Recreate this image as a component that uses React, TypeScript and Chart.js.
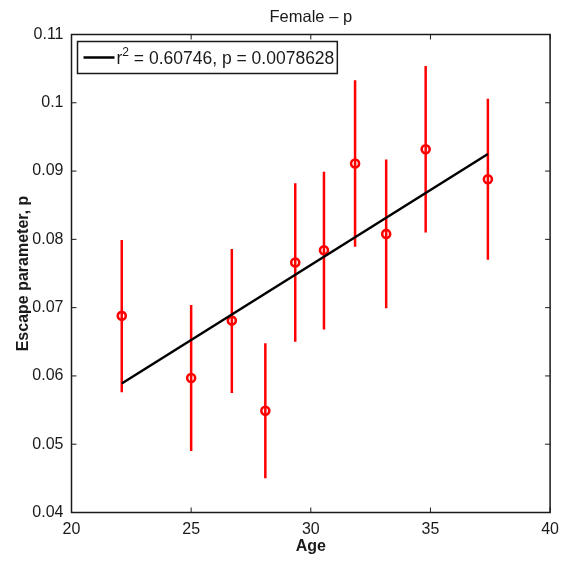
import React, { useEffect, useRef } from 'react';
import { Chart, registerables } from 'chart.js';

Chart.register(...registerables);

const chartTitle = 'Female – p';
const xAxisTitle = 'Age';
const yAxisTitle = 'Escape parameter, p';
const legendLabel = ['r', '2', ' = 0.60746, p = 0.0078628'];

const ages = [22.1, 25.0, 26.7, 28.1, 29.35, 30.55, 31.85, 33.15, 34.8, 37.4];
const pValues = [0.0688, 0.0597, 0.0681, 0.0549, 0.0766, 0.0784, 0.0911, 0.0808, 0.0932, 0.0888];
const pLower = [0.0576, 0.049, 0.0575, 0.045, 0.065, 0.0668, 0.0789, 0.0699, 0.081, 0.077];
const pUpper = [0.0799, 0.0704, 0.0786, 0.0648, 0.0882, 0.0899, 0.1033, 0.0917, 0.1054, 0.1006];
const fitX = [22.1, 37.4];
const fitY = [0.0589, 0.0925];
const xTicks = [20, 25, 30, 35, 40];
const yTicks = [0.04, 0.05, 0.06, 0.07, 0.08, 0.09, 0.1, 0.11];

const FONT = '"Liberation Sans", Arial, Helvetica, sans-serif';
const INK = '#1a1a1a';

const framePlugin = {
  id: 'matlabFrame',
  afterDraw(chart: any) {
    const { ctx, chartArea, scales } = chart;
    const { left, right, top, bottom } = chartArea;
    ctx.save();
    ctx.strokeStyle = INK;
    ctx.lineWidth = 1.5;
    ctx.strokeRect(left, top, right - left, bottom - top);
    const tl = 5;
    ctx.lineWidth = 1;
    ctx.beginPath();
    xTicks.forEach((t) => {
      const px = scales.x.getPixelForValue(t);
      ctx.moveTo(px, bottom);
      ctx.lineTo(px, bottom - tl);
      ctx.moveTo(px, top);
      ctx.lineTo(px, top + tl);
    });
    yTicks.forEach((t) => {
      const py = scales.y.getPixelForValue(t);
      ctx.moveTo(left, py);
      ctx.lineTo(left + tl, py);
      ctx.moveTo(right, py);
      ctx.lineTo(right - tl, py);
    });
    ctx.stroke();

    // title
    ctx.fillStyle = INK;
    ctx.font = `16.5px ${FONT}`;
    ctx.textAlign = 'center';
    ctx.textBaseline = 'middle';
    ctx.fillText(chartTitle, (left + right) / 2, 17);

    // legend box
    const fs = 17.5;
    const supFs = 12;
    ctx.font = `${fs}px ${FONT}`;
    const wR = ctx.measureText(legendLabel[0]).width;
    ctx.font = `${supFs}px ${FONT}`;
    const wSup = ctx.measureText(legendLabel[1]).width;
    ctx.font = `${fs}px ${FONT}`;
    const wRest = ctx.measureText(legendLabel[2]).width;
    const bx = left + 6;
    const by = top + 7;
    const lineLen = 31;
    const textX = bx + 6 + lineLen + 2;
    const bw = textX - bx + wR + wSup + wRest + 3;
    const bh = 32;
    ctx.fillStyle = '#ffffff';
    ctx.fillRect(bx, by, bw, bh);
    ctx.strokeStyle = INK;
    ctx.lineWidth = 1.5;
    ctx.strokeRect(bx, by, bw, bh);
    const cy = by + bh / 2;
    ctx.strokeStyle = '#000000';
    ctx.lineWidth = 2.5;
    ctx.beginPath();
    ctx.moveTo(bx + 6, cy);
    ctx.lineTo(bx + 6 + lineLen, cy);
    ctx.stroke();
    ctx.fillStyle = INK;
    ctx.textAlign = 'left';
    ctx.textBaseline = 'middle';
    ctx.font = `${fs}px ${FONT}`;
    ctx.fillText(legendLabel[0], textX, cy + 2);
    ctx.font = `${supFs}px ${FONT}`;
    ctx.fillText(legendLabel[1], textX + wR, cy - 5);
    ctx.font = `${fs}px ${FONT}`;
    ctx.fillText(legendLabel[2], textX + wR + wSup, cy + 2);
    ctx.restore();
  },
};

export default function App() {
  const ref = useRef<HTMLCanvasElement | null>(null);

  useEffect(() => {
    if (!ref.current) return;
    const errData: any[] = [];
    ages.forEach((a, i) => {
      errData.push({ x: a, y: pLower[i] });
      errData.push({ x: a, y: pUpper[i] });
      errData.push({ x: a, y: null });
    });
    const chart = new Chart(ref.current, {
      type: 'scatter',
      data: {
        datasets: [
          {
            label: 'fit',
            data: fitX.map((x, i) => ({ x, y: fitY[i] })),
            showLine: true,
            borderColor: '#000000',
            borderWidth: 2.5,
            pointRadius: 0,
            order: 0,
          },
          {
            label: 'mean',
            data: ages.map((x, i) => ({ x, y: pValues[i] })),
            showLine: false,
            pointStyle: 'circle',
            pointRadius: 4,
            pointBorderWidth: 2.6,
            pointBorderColor: '#ff0000',
            pointBackgroundColor: 'rgba(0,0,0,0)',
            order: 1,
          },
          {
            label: 'err',
            data: errData,
            showLine: true,
            spanGaps: false,
            borderColor: '#ff0000',
            borderWidth: 2.5,
            pointRadius: 0,
            order: 2,
          },
        ],
      },
      options: {
        responsive: false,
        animation: false,
        events: [],
        layout: { padding: { left: 0, right: 15.5, top: 34.5, bottom: 0 } },
        plugins: {
          legend: { display: false },
          tooltip: { enabled: false },
          title: { display: false },
        },
        scales: {
          x: {
            type: 'linear',
            min: 20,
            max: 40,
            afterBuildTicks: (s: any) => {
              s.ticks = xTicks.map((v) => ({ value: v }));
            },
            afterFit: (s: any) => {
              s.height = 49.5;
            },
            grid: { display: false, drawTicks: false },
            border: { display: false },
            ticks: {
              padding: 7,
              color: INK,
              font: { family: FONT, size: 16 },
              maxRotation: 0,
              autoSkip: false,
            },
            title: {
              display: true,
              text: xAxisTitle,
              color: INK,
              font: { family: FONT, size: 16, weight: 'bold' },
              padding: { top: 0, bottom: 6 },
            },
          },
          y: {
            type: 'linear',
            min: 0.04,
            max: 0.11,
            afterBuildTicks: (s: any) => {
              s.ticks = yTicks.map((v) => ({ value: v }));
            },
            afterFit: (s: any) => {
              s.width = 71.5;
            },
            grid: { display: false, drawTicks: false },
            border: { display: false },
            ticks: {
              padding: 8,
              color: INK,
              font: { family: FONT, size: 16 },
              autoSkip: false,
              callback: (v: any) => String(Number(Number(v).toFixed(2))),
            },
            title: {
              display: true,
              text: yAxisTitle,
              color: INK,
              font: { family: FONT, size: 16, weight: 'bold' },
              padding: { top: 14, bottom: 0 },
            },
          },
        },
      },
      plugins: [framePlugin],
    } as any);
    return () => chart.destroy();
  }, []);

  return (
    <div style={{ position: 'absolute', left: 0, top: 0, width: 566, height: 562, background: '#fff' }}>
      <canvas ref={ref} width={566} height={562} style={{ width: 566, height: 562, display: 'block' }} />
    </div>
  );
}
